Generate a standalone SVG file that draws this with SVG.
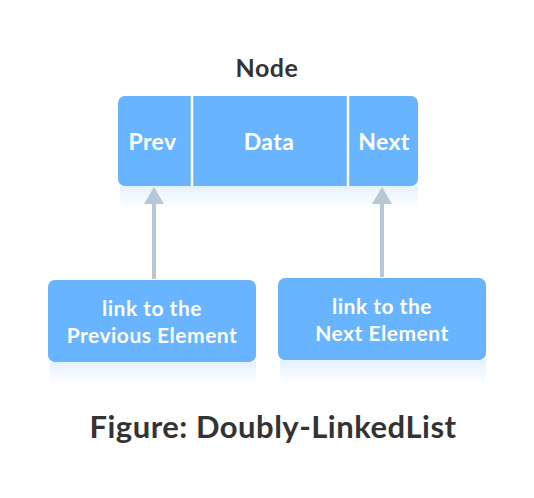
<svg xmlns="http://www.w3.org/2000/svg" width="534" height="498" viewBox="0 0 534 498">
<style>
.box{fill:#68b4fe}
.lbl{font-family:Lato,"Open Sans","Liberation Sans",sans-serif;font-weight:700;fill:#ffffff;text-anchor:middle}
.ttl{font-family:Lato,"Open Sans","Liberation Sans",sans-serif;font-weight:700;fill:#333333;text-anchor:middle}
.arr{stroke:#b8c7d6;stroke-width:4;fill:none}
.shadow{fill:url(#sh)}
</style>
<defs>
<linearGradient id="sh" x1="0" y1="0" x2="0" y2="1">
<stop offset="0" stop-color="#e6f1fd"/>
<stop offset="1" stop-color="#e6f1fd" stop-opacity="0"/>
</linearGradient>
</defs>
<rect class="shadow" x="120" y="186" width="298" height="22"/>
<rect class="shadow" x="50" y="362" width="206" height="24"/>
<rect class="shadow" x="280" y="360" width="206" height="24"/>
<g id="connectors">
<line class="arr" x1="154" y1="279" x2="154" y2="203"/>
<path d="M144,204 L154,187 L164,204 Z" fill="#b8c7d6"/>
<line class="arr" x1="382" y1="277" x2="382" y2="203"/>
<path d="M372,204 L382,187 L392,204 Z" fill="#b8c7d6"/>
</g>
<g id="node">
<text class="ttl" x="267" y="77" font-size="25" letter-spacing="0.5">Node</text>
<rect class="box" x="118" y="96" width="300" height="90" rx="7"/>
<line x1="192" y1="96" x2="192" y2="186" stroke="#fff" stroke-width="2.5"/>
<line x1="348" y1="96" x2="348" y2="186" stroke="#fff" stroke-width="2.5"/>
<text class="lbl" x="152.5" y="150" font-size="23" letter-spacing="0.4">Prev</text>
<text class="lbl" x="269" y="150" font-size="23" letter-spacing="0.4">Data</text>
<text class="lbl" x="384" y="150" font-size="23" letter-spacing="0.4">Next</text>
</g>
<g id="prev-link">
<rect class="box" x="48" y="280" width="208" height="82" rx="7"/>
<text class="lbl" x="152" y="316" font-size="21" letter-spacing="0.5">link to the</text>
<text class="lbl" x="152" y="343" font-size="21" letter-spacing="0.5">Previous Element</text>
</g>
<g id="next-link">
<rect class="box" x="278" y="278" width="208" height="82" rx="7"/>
<text class="lbl" x="382" y="314" font-size="21" letter-spacing="0.5">link to the</text>
<text class="lbl" x="382" y="341" font-size="21" letter-spacing="0.5">Next Element</text>
</g>
<text class="ttl" x="273" y="438" font-size="31" letter-spacing="0.5">Figure: Doubly-LinkedList</text>
</svg>
